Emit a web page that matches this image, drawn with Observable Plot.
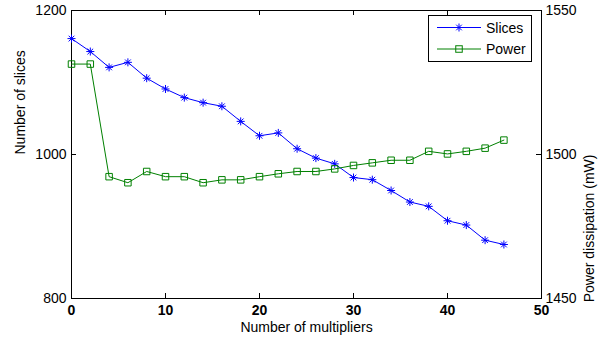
<!DOCTYPE html>
<html><head><meta charset="utf-8">
<script src="https://cdn.jsdelivr.net/npm/d3@7"></script>
<script src="https://cdn.jsdelivr.net/npm/@observablehq/plot@0.6"></script>
<style>
body{margin:0;background:#fff;}
#wrap{position:relative;width:613px;height:340px;font-family:"Liberation Sans",Arial,Helvetica,sans-serif;}
#legend{position:absolute;left:428px;top:15px;}
</style></head><body><div id="wrap"></div>
<script>
const multipliers = [0,2,4,6,8,10,12,14,16,18,20,22,24,26,28,30,32,34,36,38,40,42,44,46];
const slices = [1161,1143,1121,1128,1106,1091,1079,1072,1067,1046,1026,1030,1008,995,987,968,965,950,934,928,908,902,881,875];
const power = [1531.4,1531.4,1492.3,1490.2,1494.1,1492.3,1492.3,1490.2,1491.2,1491.2,1492.3,1493.3,1494.1,1494.1,1495,1496.2,1497.1,1498,1498,1501.1,1500.2,1501.1,1502.2,1505];
const xTicks = [0,10,20,30,40,50];
const leftTicks = [800,1000,1200];
const rightTicks = [1450,1500,1550];
const seriesNames = ["Slices","Power"];

// map right-axis (power) values onto the left scale
const toLeft = p => 800 + (p - 1450) * 4;
const data = multipliers.map((x,i)=>({x, slices:slices[i], power:power[i]}));

const font = '"Liberation Sans",Arial,Helvetica,sans-serif';
const blue = "#0000ff", green = "#008000";

const plot = Plot.plot({
  width:613, height:340,
  marginLeft:71, marginRight:72, marginTop:10, marginBottom:42,
  style:{fontFamily:font, fontSize:"14px", background:"white", color:"black", overflow:"visible"},
  x:{domain:[0,50]},
  y:{domain:[800,1200]},
  marks:[
    Plot.frame({stroke:"black"}),
    Plot.tickX(xTicks,{x:d=>d, insetTop:283, stroke:"black"}),
    Plot.tickX(xTicks,{x:d=>d, insetBottom:283, stroke:"black"}),
    Plot.tickY(leftTicks,{y:d=>d, insetRight:465, stroke:"black"}),
    Plot.tickY(rightTicks.map(toLeft),{y:d=>d, insetLeft:465, stroke:"black"}),
    Plot.axisX({ticks:xTicks, tickSize:0, tickPadding:7, label:null, fontWeight:"bold", tickFormat:d=>String(d)}),
    Plot.axisY({ticks:leftTicks, tickSize:0, tickPadding:5, label:null, tickFormat:d=>String(d)}),
    Plot.axisY({anchor:"right", ticks:rightTicks.map(toLeft), tickSize:0, tickPadding:4, label:null, tickFormat:d=>String(Math.round(1450+(d-800)/4))}),
    Plot.text(["Number of multipliers"],{frameAnchor:"bottom", dy:33, fontSize:14}),
    Plot.text(["Number of slices"],{frameAnchor:"left", dx:-51, rotate:-90, fontSize:14}),
    Plot.text(["Power dissipation (mW)"],{frameAnchor:"right", dx:48, rotate:-90, fontSize:14}),
    Plot.line(data,{x:"x", y:"slices", stroke:blue, strokeWidth:1}),
    Plot.dot(data,{x:"x", y:"slices", symbol:"plus", r:2.7, stroke:blue, strokeWidth:1}),
    Plot.dot(data,{x:"x", y:"slices", symbol:"times", r:2.7, stroke:blue, strokeWidth:1}),
    Plot.line(data,{x:"x", y:d=>toLeft(d.power), stroke:green, strokeWidth:1}),
    Plot.dot(data,{x:"x", y:d=>toLeft(d.power), symbol:"square", r:3.67, stroke:green, fill:"none", strokeWidth:1})
  ]
});
const wrap = document.getElementById("wrap");
wrap.appendChild(plot);

// legend
const lg = d3.create("svg").attr("id","legend").attr("width",105).attr("height",48)
  .style("font-family",font).style("font-size","14px");
lg.append("rect").attr("x",0.5).attr("y",0.5).attr("width",103).attr("height",46)
  .attr("fill","white").attr("stroke","black");
const rows = [{name:seriesNames[0], color:blue, y:12.5},{name:seriesNames[1], color:green, y:34}];
rows.forEach((r,i)=>{
  lg.append("line").attr("x1",9).attr("x2",53).attr("y1",r.y).attr("y2",r.y).attr("stroke",r.color);
  if(i===0){
    const s=4;
    lg.append("path").attr("d",`M${31-s},${r.y}H${31+s}M31,${r.y-s}V${r.y+s}M${31-2.8},${r.y-2.8}L${31+2.8},${r.y+2.8}M${31-2.8},${r.y+2.8}L${31+2.8},${r.y-2.8}`)
      .attr("stroke",r.color).attr("fill","none");
  } else {
    lg.append("rect").attr("x",31-3.25).attr("y",r.y-3.25).attr("width",6.5).attr("height",6.5)
      .attr("stroke",r.color).attr("fill","none");
  }
  lg.append("text").attr("x",58).attr("y",r.y+5).text(r.name);
});
wrap.appendChild(lg.node());
</script></body></html>
